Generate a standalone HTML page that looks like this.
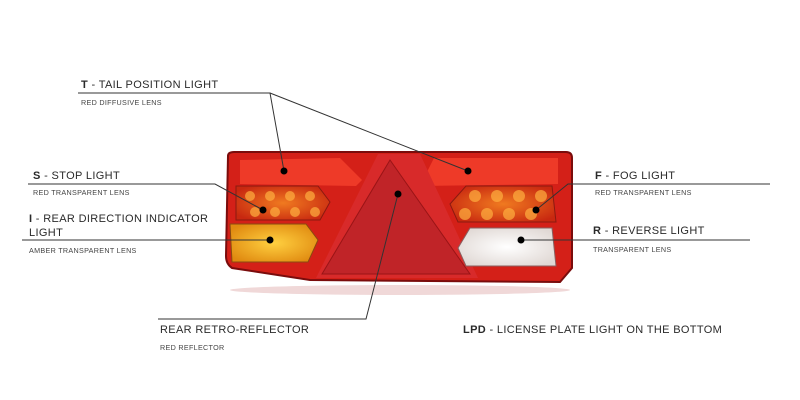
<!DOCTYPE html>
<html><head><meta charset="utf-8"><style>
html,body{margin:0;padding:0;background:#fff;width:800px;height:400px;overflow:hidden}
svg text{font-family:"Liberation Sans",sans-serif;fill:#2a2a2a}
.t{font-size:11px;letter-spacing:0.35px}
.s{font-size:7.2px;letter-spacing:0.3px;fill:#444}
</style></head><body>
<svg width="800" height="400" viewBox="0 0 800 400" xmlns="http://www.w3.org/2000/svg">
<defs>
<radialGradient id="amb" cx="0.5" cy="0.5" r="0.6"><stop offset="0" stop-color="#ffd040"/><stop offset="1" stop-color="#e08a10"/></radialGradient>
<radialGradient id="stp" cx="0.5" cy="0.5" r="0.6"><stop offset="0" stop-color="#f07a20"/><stop offset="1" stop-color="#c82810"/></radialGradient>
<radialGradient id="wht" cx="0.5" cy="0.5" r="0.6"><stop offset="0" stop-color="#ffffff"/><stop offset="1" stop-color="#e0d8d4"/></radialGradient>
</defs>
<ellipse cx="400" cy="290" rx="170" ry="5" fill="#f0d8d8"/>
<path d="M228 156 Q228 152 234 152 L566 152 Q572 152 572 158 L572 268 L560 282 L310 280 L232 268 Q226 264 226 256 Z" fill="#d42018" stroke="#7a0c0c" stroke-width="2"/>
<path d="M240 160 L340 158 L362 180 L356 186 L240 184 Z" fill="#ee3a28"/>
<path d="M434 158 L558 158 L558 184 L420 186 Z" fill="#ee3a28"/>
<path d="M378 154 L420 154 L478 278 L316 278 Z" fill="#d82a2a"/>
<path d="M390 160 L470 274 L322 274 Z" fill="#c02428" stroke="#9a1416" stroke-width="1"/>
<path d="M236 186 L318 186 L330 202 L320 220 L236 220 Z" fill="url(#stp)" stroke="#8a1a10"/>
<path d="M230 224 L306 224 L318 240 L308 262 L232 262 Z" fill="url(#amb)" stroke="#8a4a10"/>
<path d="M466 186 L552 186 L556 222 L458 222 L450 204 Z" fill="url(#stp)" stroke="#8a1a10"/>
<path d="M470 228 L552 228 L556 266 L466 266 L458 248 Z" fill="url(#wht)" stroke="#8a6060"/>
<g fill="#ffb040" opacity="0.7">
<circle cx="250" cy="196" r="5"/><circle cx="270" cy="196" r="5"/><circle cx="290" cy="196" r="5"/><circle cx="310" cy="196" r="5"/>
<circle cx="255" cy="212" r="5"/><circle cx="275" cy="212" r="5"/><circle cx="295" cy="212" r="5"/><circle cx="315" cy="212" r="5"/>
<circle cx="475" cy="196" r="6"/><circle cx="497" cy="196" r="6"/><circle cx="519" cy="196" r="6"/><circle cx="541" cy="196" r="6"/>
<circle cx="465" cy="214" r="6"/><circle cx="487" cy="214" r="6"/><circle cx="509" cy="214" r="6"/><circle cx="531" cy="214" r="6"/>
</g>
<g stroke="#333" stroke-width="1" fill="none">
<polyline points="78,93 270,93 284,171"/>
<line x1="270" y1="93" x2="468" y2="171"/>
<polyline points="28,184 215,184 263,210"/>
<line x1="22" y1="240" x2="270" y2="240"/>
<polyline points="536,210 568,184 770,184"/>
<line x1="521" y1="240" x2="750" y2="240"/>
<polyline points="398,194 366,319 158,319"/>
</g>
<g fill="#000">
<circle cx="284" cy="171" r="3.5"/><circle cx="468" cy="171" r="3.5"/><circle cx="263" cy="210" r="3.5"/>
<circle cx="270" cy="240" r="3.5"/><circle cx="398" cy="194" r="3.5"/><circle cx="536" cy="210" r="3.5"/><circle cx="521" cy="240" r="3.5"/>
</g>
<text class="t" x="81" y="88"><tspan font-weight="bold">T</tspan> - TAIL POSITION LIGHT</text>
<text class="s" x="81" y="105">RED DIFFUSIVE LENS</text>
<text class="t" x="33" y="179"><tspan font-weight="bold">S</tspan> - STOP LIGHT</text>
<text class="s" x="33" y="195">RED TRANSPARENT LENS</text>
<text class="t" x="29" y="222"><tspan font-weight="bold">I</tspan> - REAR DIRECTION INDICATOR</text>
<text class="t" x="29" y="236">LIGHT</text>
<text class="s" x="29" y="253">AMBER TRANSPARENT LENS</text>
<text class="t" x="595" y="179"><tspan font-weight="bold">F</tspan> - FOG LIGHT</text>
<text class="s" x="595" y="195">RED TRANSPARENT LENS</text>
<text class="t" x="593" y="234"><tspan font-weight="bold">R</tspan> - REVERSE LIGHT</text>
<text class="s" x="593" y="252">TRANSPARENT LENS</text>
<text class="t" x="160" y="333">REAR RETRO-REFLECTOR</text>
<text class="s" x="160" y="350">RED REFLECTOR</text>
<text class="t" x="463" y="333"><tspan font-weight="bold">LPD</tspan> - LICENSE PLATE LIGHT ON THE BOTTOM</text>
</svg>
</body></html>
